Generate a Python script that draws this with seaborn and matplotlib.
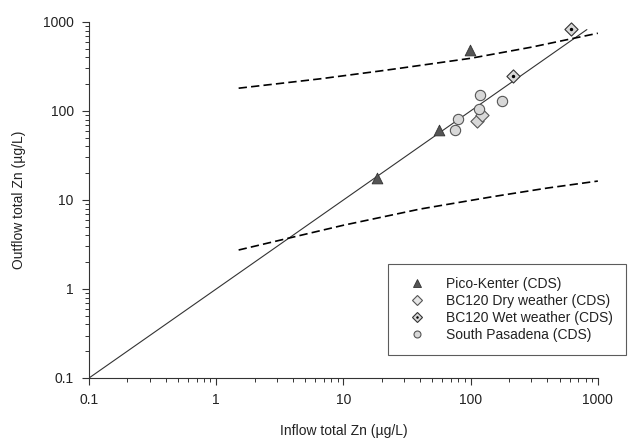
import matplotlib
matplotlib.use("Agg")
import matplotlib.pyplot as plt
import numpy as np
import pandas as pd
import seaborn as sns
from matplotlib.legend_handler import HandlerTuple
from matplotlib.lines import Line2D
from matplotlib.ticker import FuncFormatter, LogLocator, NullFormatter

# data (inflow, outflow in ug/L)
pico_in = [18.2, 56.6, 98.0]
pico_out = [17.8, 61.0, 480.0]
dry_in = [112.0, 122.0]
dry_out = [77.0, 91.0]
wet_in = [214.0, 620.0]
wet_out = [248.0, 830.0]
pasadena_in = [75.0, 79.0, 117.0, 118.0, 175.0]
pasadena_out = [61.0, 81.0, 105.0, 150.0, 128.0]

fit_x = [0.1, 820.0]
fit_y = [0.1, 820.0]
upper_x = [1.5, 6.5, 19.4, 28.0, 100.0, 300.0, 1000.0]
upper_y = [180.0, 229.0, 281.0, 302.0, 390.0, 520.0, 746.0]
lower_x = [1.5, 3.7, 10.0, 40.0, 150.0, 400.0, 1000.0]
lower_y = [2.74, 3.72, 5.2, 7.9, 10.9, 13.6, 16.3]

sns.set_theme(style="ticks")
plt.rcParams["font.family"] = ["Liberation Sans", "DejaVu Sans"]

fig = plt.figure(figsize=(6.36, 4.38), dpi=100)
ax = fig.add_axes([0.140, 0.137, 0.800, 0.813])

dark = "#555555"
light = "#d8d8d8"

sns.lineplot(x=fit_x, y=fit_y, ax=ax, color="#333333", lw=0.8, estimator=None)
for xs, ys in [(upper_x, upper_y), (lower_x, lower_y)]:
    sns.lineplot(x=xs, y=ys, ax=ax, color="black", lw=1.2, estimator=None,
                 linestyle=(0, (5, 2.5)))

sns.scatterplot(x=pico_in, y=pico_out, ax=ax, marker="^", s=60, color=dark,
                edgecolor="#333333", linewidth=0.6, zorder=3)
sns.scatterplot(x=dry_in, y=dry_out, ax=ax, marker="D", s=45, color=light,
                edgecolor=dark, linewidth=0.8, zorder=3)
sns.scatterplot(x=pasadena_in, y=pasadena_out, ax=ax, marker="o", s=55, color=light,
                edgecolor=dark, linewidth=0.8, zorder=4)
sns.scatterplot(x=wet_in, y=wet_out, ax=ax, marker="D", s=45, color=light,
                edgecolor="#333333", linewidth=0.8, zorder=4)
sns.scatterplot(x=wet_in, y=wet_out, ax=ax, marker="o", s=6, color="black",
                edgecolor="black", linewidth=0, zorder=5)

ax.set_xscale("log")
ax.set_yscale("log")
ax.set_xlim(0.1, 1000)
ax.set_ylim(0.1, 1000)

fmt = FuncFormatter(lambda v, p: f"{v:g}")
for axis in (ax.xaxis, ax.yaxis):
    axis.set_major_locator(LogLocator(base=10))
    axis.set_minor_locator(LogLocator(base=10, subs=np.arange(2, 10)))
    axis.set_major_formatter(fmt)
    axis.set_minor_formatter(NullFormatter())

ax.tick_params(which="major", direction="out", length=5, width=0.8, color="#333333",
               labelsize=10, labelcolor="#222222", pad=6)
ax.tick_params(which="minor", direction="out", length=3, width=0.7, color="#333333")
for side in ("top", "right"):
    ax.spines[side].set_visible(False)
for side in ("left", "bottom"):
    ax.spines[side].set_color("#333333")
    ax.spines[side].set_linewidth(0.8)

ax.set_xlabel("Inflow total Zn (µg/L)", fontsize=10, color="#222222", labelpad=12)
ax.set_ylabel("Outflow total Zn (µg/L)", fontsize=10, color="#222222", labelpad=12)

h_pico = Line2D([], [], marker="^", ls="", ms=6, mfc=dark, mec="#333333", mew=0.6)
h_dry = Line2D([], [], marker="D", ls="", ms=5, mfc="#e6e6e6", mec=dark, mew=0.8)
h_wet = (Line2D([], [], marker="D", ls="", ms=5, mfc=light, mec="#333333", mew=0.8),
         Line2D([], [], marker="o", ls="", ms=1.8, mfc="black", mec="black", mew=0))
h_pas = Line2D([], [], marker="o", ls="", ms=5, mfc=light, mec=dark, mew=0.8)

leg = ax.legend([h_pico, h_dry, h_wet, h_pas],
                ["Pico-Kenter (CDS)", "BC120 Dry weather (CDS)",
                 "BC120 Wet weather (CDS)", "South Pasadena (CDS)"],
                handler_map={tuple: HandlerTuple(ndivide=1, pad=0)},
                loc="lower right", bbox_to_anchor=(1.055, 0.065), fontsize=10,
                frameon=True, fancybox=False, edgecolor="#333333",
                borderpad=0.95, labelspacing=0.2, handletextpad=1.0,
                borderaxespad=0, handlelength=2.2)
leg.get_frame().set_linewidth(0.8)
for t in leg.get_texts():
    t.set_color("#222222")

fig.savefig("out.png", dpi=100)
